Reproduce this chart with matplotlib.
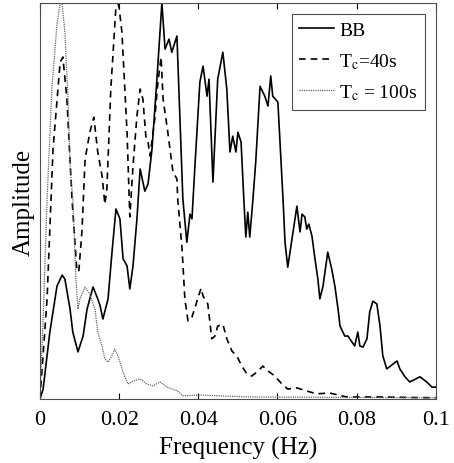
import numpy as np
import matplotlib
matplotlib.use('Agg')
import matplotlib.pyplot as plt

# Normalised spectra (frequency in Hz, amplitude 0..1)
f_bb = [0.0000, 0.0008, 0.0025, 0.0043, 0.0056, 0.0063, 0.0076, 0.0083, 0.0096, 0.0109,
        0.0119, 0.0134, 0.0146, 0.0152, 0.0159, 0.0172, 0.0182, 0.0192, 0.0202, 0.0210,
        0.0220, 0.0227, 0.0235, 0.0245, 0.0253, 0.0265, 0.0273, 0.0283, 0.0295, 0.0308,
        0.0316, 0.0326, 0.0333, 0.0346, 0.0361, 0.0371, 0.0379, 0.0384, 0.0391, 0.0404,
        0.0412, 0.0422, 0.0427, 0.0437, 0.0449, 0.0462, 0.0472, 0.0480, 0.0487, 0.0495,
        0.0500, 0.0508, 0.0515, 0.0520, 0.0525, 0.0530, 0.0538, 0.0545, 0.0556, 0.0568,
        0.0576, 0.0583, 0.0588, 0.0601, 0.0614, 0.0619, 0.0626, 0.0649, 0.0657, 0.0662,
        0.0669, 0.0674, 0.0679, 0.0687, 0.0694, 0.0702, 0.0707, 0.0715, 0.0727, 0.0737,
        0.0745, 0.0753, 0.0758, 0.0770, 0.0778, 0.0788, 0.0795, 0.0803, 0.0808, 0.0816,
        0.0826, 0.0833, 0.0841, 0.0851, 0.0859, 0.0866, 0.0876, 0.0902, 0.0909, 0.0922,
        0.0934, 0.0960, 0.0977, 0.0990, 0.1000]
a_bb = [0.000, 0.025, 0.169, 0.285, 0.313, 0.303, 0.227, 0.169, 0.119, 0.159,
        0.227, 0.283, 0.253, 0.235, 0.202, 0.253, 0.371, 0.480, 0.455, 0.354,
        0.336, 0.278, 0.336, 0.455, 0.581, 0.525, 0.543, 0.631, 0.801, 1.000,
        0.884, 0.909, 0.876, 0.917, 0.505, 0.396, 0.467, 0.455, 0.581, 0.801,
        0.841, 0.765, 0.808, 0.548, 0.808, 0.876, 0.783, 0.624, 0.664, 0.624,
        0.674, 0.649, 0.505, 0.409, 0.472, 0.409, 0.505, 0.598, 0.790, 0.765,
        0.740, 0.816, 0.765, 0.750, 0.505, 0.396, 0.333, 0.487, 0.422, 0.467,
        0.460, 0.429, 0.442, 0.412, 0.359, 0.303, 0.253, 0.285, 0.371, 0.328,
        0.285, 0.227, 0.184, 0.159, 0.159, 0.144, 0.134, 0.169, 0.134, 0.131,
        0.152, 0.220, 0.247, 0.240, 0.184, 0.109, 0.076, 0.096, 0.076, 0.056,
        0.043, 0.056, 0.043, 0.030, 0.030]

f_40 = [0.0000, 0.0018, 0.0033, 0.0051, 0.0058, 0.0068, 0.0081, 0.0093, 0.0098, 0.0106,
        0.0114, 0.0126, 0.0136, 0.0146, 0.0157, 0.0164, 0.0169, 0.0179, 0.0192, 0.0199,
        0.0207, 0.0220, 0.0227, 0.0235, 0.0245, 0.0253, 0.0260, 0.0268, 0.0273, 0.0278,
        0.0290, 0.0298, 0.0306, 0.0311, 0.0323, 0.0336, 0.0346, 0.0348, 0.0359, 0.0366,
        0.0374, 0.0384, 0.0396, 0.0407, 0.0412, 0.0424, 0.0434, 0.0442, 0.0449, 0.0462,
        0.0472, 0.0485, 0.0497, 0.0510, 0.0523, 0.0535, 0.0548, 0.0563, 0.0576, 0.0593,
        0.0611, 0.0626, 0.0649, 0.0674, 0.0699, 0.0732, 0.0775, 0.0859, 0.1000]
a_40 = [0.000, 0.253, 0.631, 0.851, 0.864, 0.758, 0.505, 0.328, 0.321, 0.422,
        0.606, 0.674, 0.712, 0.624, 0.563, 0.492, 0.530, 0.783, 0.992, 0.997,
        0.927, 0.674, 0.460, 0.588, 0.715, 0.783, 0.758, 0.657, 0.649, 0.614,
        0.707, 0.801, 0.864, 0.758, 0.674, 0.573, 0.556, 0.505, 0.379, 0.253,
        0.197, 0.207, 0.245, 0.280, 0.260, 0.240, 0.152, 0.159, 0.184, 0.189,
        0.152, 0.121, 0.109, 0.083, 0.063, 0.058, 0.068, 0.083, 0.071, 0.058,
        0.038, 0.025, 0.028, 0.020, 0.013, 0.015, 0.005, 0.005, 0.003]

f_100 = [0.0000, 0.0008, 0.0018, 0.0030, 0.0043, 0.0051, 0.0056, 0.0063, 0.0071, 0.0076,
         0.0083, 0.0091, 0.0096, 0.0101, 0.0114, 0.0126, 0.0139, 0.0146, 0.0157, 0.0164,
         0.0172, 0.0182, 0.0189, 0.0197, 0.0210, 0.0222, 0.0235, 0.0253, 0.0270, 0.0285,
         0.0303, 0.0321, 0.0348, 0.0361, 0.0404, 0.0447, 0.0530, 0.1000]
a_100 = [0.000, 0.202, 0.505, 0.783, 0.947, 1.000, 0.997, 0.927, 0.758, 0.588,
         0.505, 0.303, 0.227, 0.253, 0.283, 0.265, 0.227, 0.169, 0.134, 0.101,
         0.093, 0.109, 0.126, 0.109, 0.068, 0.038, 0.045, 0.051, 0.038, 0.033,
         0.043, 0.030, 0.020, 0.008, 0.010, 0.008, 0.005, 0.003]

xticks = [0, 0.02, 0.04, 0.06, 0.08, 0.1]
xticklabels = ['0', '0.02', '0.04', '0.06', '0.08', '0.1']

plt.rcParams['font.family'] = 'Liberation Serif'
plt.rcParams['mathtext.fontset'] = 'stix'

fig = plt.figure(figsize=(4.54, 4.64), dpi=100)
ax = fig.add_axes([0.088, 0.138, 0.872, 0.853])

ax.plot(f_bb, a_bb, color='black', lw=1.2, label='BB')
ax.plot(f_40, a_40, color='black', lw=1.2, linestyle=(0, (4, 3)), label=r'T$_\mathrm{c}$=40s')
ax.plot(f_100, a_100, color='0.4', lw=0.9, linestyle=(0, (1, 0.8)), label=r'T$_\mathrm{c}$ = 100s')

ax.set_xlim(0, 0.1)
ax.set_ylim(0, 1.0)
ax.set_xticks(xticks)
ax.set_xticklabels(xticklabels)
ax.set_yticks([])
ax.tick_params(axis='x', direction='in', top=True, labelsize=16, pad=8, length=4)
ax.set_xlabel('Frequency (Hz)', fontsize=18, labelpad=5)
ax.set_ylabel('Amplitude', fontsize=18, labelpad=4)
for s in ax.spines.values():
    s.set_color('0.3')
    s.set_linewidth(0.8)

leg = ax.legend(loc='upper right', fontsize=14, fancybox=False, framealpha=1,
                edgecolor='0.3', handlelength=1.8, borderaxespad=0.55,
                labelspacing=0.6, handletextpad=0.25, borderpad=0.4)
leg.get_frame().set_linewidth(0.8)

fig.savefig('out.png', dpi=100)
